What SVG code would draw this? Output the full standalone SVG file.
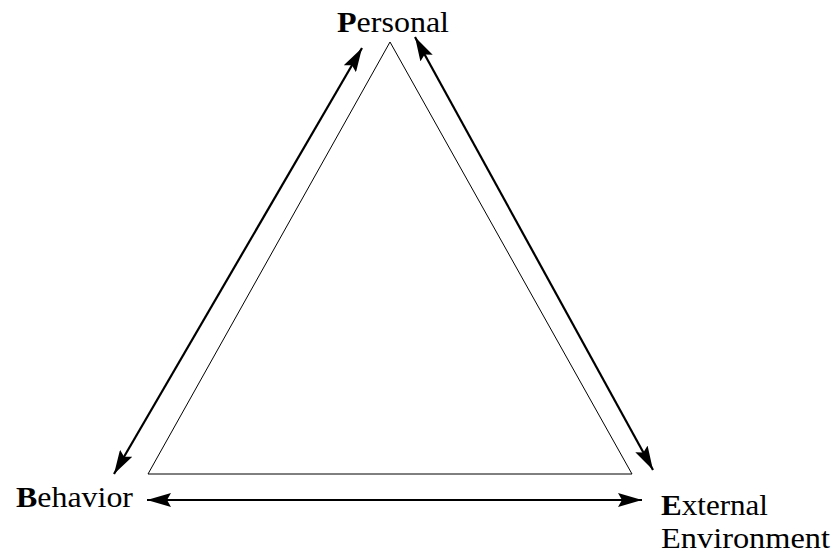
<svg xmlns="http://www.w3.org/2000/svg" width="834" height="559" viewBox="0 0 834 559">
<defs>
<style>
.lbl{font-family:"Liberation Serif","Times New Roman",serif;font-size:28.5px;fill:#000}
.b{font-weight:bold}
.con{stroke:#000;stroke-width:2.2;fill:none;marker-start:url(#ah);marker-end:url(#ah)}
</style>
<marker id="ah" viewBox="0 0 24 14" refX="24" refY="7" markerWidth="24" markerHeight="14" markerUnits="userSpaceOnUse" orient="auto-start-reverse">
<path d="M0,0 L24,7 L0,14 L4,7 z" fill="#000"/>
</marker>
</defs>
<rect width="834" height="559" fill="#fff"/>
<g id="triangle">
<polygon points="390,42 148,474 632,474" fill="none" stroke="#000" stroke-width="1"/>
</g>
<g id="connectors">
<line class="con" x1="362" y1="48" x2="114" y2="474"/>
<line class="con" x1="415" y1="37" x2="653" y2="470"/>
<line class="con" x1="147" y1="500" x2="642" y2="500"/>
</g>
<g id="personal">
<text class="lbl" x="337" y="32" textLength="112" lengthAdjust="spacingAndGlyphs"><tspan class="b">P</tspan>ersonal</text>
</g>
<g id="behavior">
<text class="lbl" x="16" y="507" textLength="117" lengthAdjust="spacingAndGlyphs"><tspan class="b">B</tspan>ehavior</text>
</g>
<g id="external">
<text class="lbl" x="661" y="515" textLength="107" lengthAdjust="spacingAndGlyphs"><tspan class="b">E</tspan>xternal</text>
<text class="lbl" x="661" y="548" textLength="169" lengthAdjust="spacingAndGlyphs">Environment</text>
</g>
</svg>
